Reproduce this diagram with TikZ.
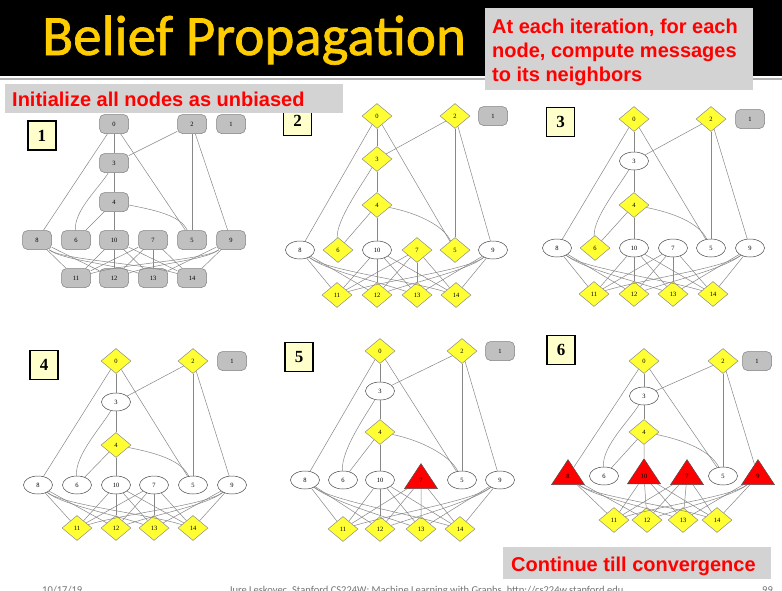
\documentclass[tikz,border=0pt]{standalone}
\usepackage{fontspec}
\setmainfont{Liberation Serif}
\newfontfamily\titlefont{Carlito}[FakeBold=1.2]
\newfontfamily\footfont{Carlito}
\newfontfamily\arialfont{Liberation Sans}
\usetikzlibrary{shapes.geometric,calc}
\definecolor{bpyellow}{RGB}{255,255,51}
\definecolor{bpgray}{RGB}{192,192,192}
\definecolor{bpedge}{RGB}{135,135,135}
\definecolor{bpbox}{RGB}{211,211,211}
\definecolor{bptitle}{RGB}{255,204,0}
\definecolor{bplabel}{RGB}{255,255,204}
\definecolor{bpred}{RGB}{255,0,0}
\tikzset{
  gn/.style={rectangle, rounded corners=5pt, draw=black!50, fill=bpgray, minimum width=29pt, minimum height=19pt, line width=0.5pt, inner sep=0pt, font=\fontsize{6.5}{7}\selectfont},
  en/.style={ellipse, draw=black!70, fill=white, minimum width=29pt, minimum height=18pt, line width=0.5pt, inner sep=0pt, font=\fontsize{6.5}{7}\selectfont},
  dn/.style={diamond, draw=black!45, fill=bpyellow, minimum width=30pt, minimum height=25pt, line width=0.5pt, inner sep=0pt, font=\fontsize{6.5}{7}\selectfont},
  tn/.style={isosceles triangle, isosceles triangle stretches, shape border rotate=90, draw=black!70, fill=red, minimum width=33pt, minimum height=25pt, line width=0.5pt, inner sep=0pt, font=\fontsize{6.5}{7}\selectfont},
  edge/.style={draw=bpedge, line width=0.5pt},
  plabel/.style={draw=black, line width=1.2pt, fill=bplabel, inner sep=0pt, font=\fontsize{17}{17}\selectfont\bfseries, minimum width=28pt, minimum height=29pt},
  redtext/.style={anchor=base west, inner sep=0pt, text=bpred, font=\arialfont\bfseries\fontsize{20}{24}\selectfont},
  foot/.style={anchor=base west, inner sep=0pt, text=black!55, font=\footfont\fontsize{10.5}{12}\selectfont},
}
\newcommand\bpedges[1]{%
  \foreach \a/\b in {0/3,0/8,0/5,2/3,2/5,2/9,3/4,4/6,4/10,8/11,8/12,10/11,10/12,10/13,10/14,7/11,7/12,7/13,7/14,9/13,9/14}
    \draw[edge] (#1\a) -- (#1\b);
  \draw[edge] (#13) .. controls ($(#13)+(-14,24)$) and ($(#16)+(-2,-30)$) .. (#16);
  \draw[edge] (#14) .. controls ($(#14)+(40,8)$) and ($(#15)+(-12,-25)$) .. (#15);
  \draw[edge] (#18) .. controls ($(#18)+(25,20)$) and ($(#113)+(-45,-15)$) .. (#113);
  \draw[edge] (#18) .. controls ($(#18)+(25,20)$) and ($(#114)+(-50,-15)$) .. (#114);
  \draw[edge] (#19) .. controls ($(#19)+(-25,20)$) and ($(#112)+(45,-15)$) .. (#112);
  \draw[edge] (#19) .. controls ($(#19)+(-25,20)$) and ($(#111)+(50,-15)$) .. (#111);
}
\begin{document}
\begin{tikzpicture}[x=1pt,y=-1pt]
\useasboundingbox (0,0) rectangle (782,590);
\fill[white] (0,0) rectangle (782,590);
% title bar
\fill[black] (0,0) rectangle (782,76);
\draw[line width=2pt, black!30] (0,79) -- (782,79);
\node[anchor=base west, inner sep=0pt, text=bptitle, font=\titlefont\fontsize{57}{57}\selectfont] (title) at (42,55) {Belief Propagation};

% panel 1
\foreach \n/\s/\x/\y in {0/gn/114/124, 2/gn/192/124, 1/gn/231/124, 3/gn/114/163, 4/gn/114/202, 8/gn/37/240, 6/gn/76/240, 10/gn/114/240, 7/gn/153/240, 5/gn/192/240, 9/gn/231/240, 11/gn/76/278, 12/gn/114/278, 13/gn/153/278, 14/gn/192/278}
  \node[\s] (A\n) at (\x,\y) {\n};
\bpedges{A}
\node[plabel] (Alab) at (42,135.5) {1};

% panel 2
\foreach \n/\s/\x/\y in {0/dn/377/116, 2/dn/455/116, 1/gn/493/116, 3/dn/377/159, 4/dn/377/205, 8/en/300/250, 6/dn/338/250, 10/en/377/250, 7/dn/417/250, 5/dn/455/250, 9/en/493/250, 11/dn/337/295, 12/dn/377/295, 13/dn/417/295, 14/dn/456/295}
  \node[\s] (B\n) at (\x,\y) {\n};
\bpedges{B}
\node[plabel] (Blab) at (297.5,121) {2};

% panel 3
\foreach \n/\s/\x/\y in {0/dn/634/119, 2/dn/711/119, 1/gn/750/119, 3/en/634/161, 4/dn/634/205, 8/en/557/248, 6/dn/595/248, 10/en/634/248, 7/en/673/248, 5/en/711/248, 9/en/750/248, 11/dn/594/294, 12/dn/634/294, 13/dn/673/294, 14/dn/713/294}
  \node[\s] (C\n) at (\x,\y) {\n};
\bpedges{C}
\node[plabel] (Clab) at (560.5,122) {3};

% panel 4
\foreach \n/\s/\x/\y in {0/dn/116/361, 2/dn/193/361, 1/gn/232/361, 3/en/116/402, 4/dn/116/445, 8/en/38/485, 6/en/77/485, 10/en/116/485, 7/en/154/485, 5/en/193/485, 9/en/232/485, 11/dn/77/528, 12/dn/116/528, 13/dn/154/528, 14/dn/193/528}
  \node[\s] (D\n) at (\x,\y) {\n};
\bpedges{D}
\node[plabel] (Dlab) at (44,365) {4};

% panel 5
\foreach \n/\s/\x/\y in {0/dn/380/351, 2/dn/462/351, 1/gn/500/351, 3/en/380/391, 4/dn/380/432, 8/en/305/480, 6/en/343/480, 10/en/380/480, 7/tn/421/480, 5/en/462/480, 9/en/500/480, 11/dn/343/529, 12/dn/380/529, 13/dn/421/529, 14/dn/460/529}
  \node[\s] (E\n) at (\x,\y) {\n};
\bpedges{E}
\node[plabel] (Elab) at (299,357) {5};

% panel 6
\foreach \n/\s/\x/\y in {0/dn/644/361, 2/dn/723/361, 1/gn/757/361, 3/en/644/396, 4/dn/644/432, 8/tn/568/476, 6/en/604/476, 10/tn/644/476, 7/tn/687/476, 5/en/723/476, 9/tn/758/476, 11/dn/614/520, 12/dn/647/520, 13/dn/683/520, 14/dn/717/520}
  \node[\s] (F\n) at (\x,\y) {\n};
\bpedges{F}
\node[plabel] (Flab) at (561,350) {6};

% text boxes
\fill[bpbox] (485,8) rectangle (753,90);
\node[redtext] (t1) at (492,33) {At each iteration, for each};
\node[redtext] (t2) at (492,57) {node, compute messages};
\node[redtext] (t3) at (492,81) {to its neighbors};
\fill[bpbox] (5,84) rectangle (343,113);
\node[redtext] (t4) at (12,106) {Initialize all nodes as unbiased};
\fill[bpbox] (503,547) rectangle (771,579);
\node[redtext] (t5) at (511,571) {Continue till convergence};

% footer
\node[foot] (f1) at (42,593) {10/17/19};
\node[foot] (f2) at (229,593) {Jure Leskovec, Stanford CS224W: Machine Learning with Graphs, http://cs224w.stanford.edu};
\node[foot] (f3) at (762,593) {99};
\end{tikzpicture}
\end{document}
